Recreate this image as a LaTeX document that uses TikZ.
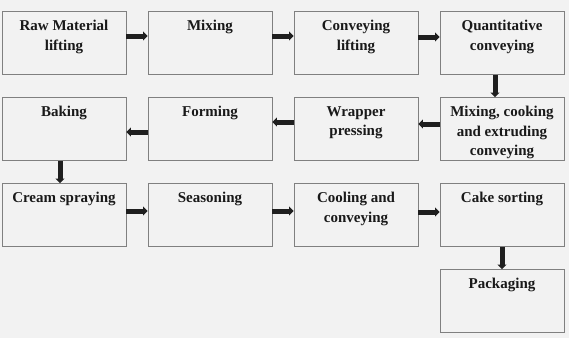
\documentclass[tikz,border=0pt]{standalone}
\usepackage{fontspec}
\setmainfont{Liberation Serif}
\usetikzlibrary{arrows.meta}
\definecolor{pagebg}{HTML}{F2F2F2}
\definecolor{boxline}{HTML}{808080}
\begin{document}
\begin{tikzpicture}[>=Stealth,x=1pt,y=1pt]
\tikzstyle{stage}=[draw=boxline,line width=0.8pt,fill=pagebg,minimum width=124pt,minimum height=63pt,inner sep=0pt]
\tikzstyle{caption}=[anchor=north,align=center,inner sep=0pt,text=black!90,font=\fontsize{15}{19.5}\selectfont\bfseries]
\tikzstyle{flow}=[line width=5pt,draw=black!88,-{Triangle[length=4.5pt,width=9pt]}]
\fill[pagebg] (0,0) rectangle (569,-338);
\useasboundingbox (0,0) rectangle (569,-338);
\foreach \c/\r/\nm [count=\i from 0] in {0/0/{Raw Material\\lifting}, 1/0/{Mixing}, 2/0/{Conveying\\lifting}, 3/0/{Quantitative\\conveying}, 3/1/{Mixing, cooking\\and extruding\\conveying}, 2/1/{Wrapper\\pressing}, 1/1/{Forming}, 0/1/{Baking}, 0/2/{Cream spraying}, 1/2/{Seasoning}, 2/2/{Cooling and\\conveying}, 3/2/{Cake sorting}, 3/3/{Packaging}} {
  \pgfmathsetmacro\xx{64+146*\c}
  \pgfmathsetmacro\yy{-43-86*\r}
  \node[stage] (n\i) at (\xx,\yy) {};
  \node[caption] (t\i) at ([yshift=-9pt]n\i.north) {\nm};
}
% from/to anchors and a small offset for each arrow
\foreach \i/\a/\b/\dx/\dy in {0/east/west/0/7, 1/east/west/0/7, 2/east/west/0/6, 3/south/north/-7/0, 4/west/east/0/5, 5/west/east/0/7, 6/west/east/0/-3, 7/south/north/-4/0, 8/east/west/0/4, 9/east/west/0/4, 10/east/west/0/3, 11/south/north/0/0} {
  \pgfmathtruncatemacro\j{\i+1}
  \draw[flow] ([shift={(\dx,\dy)}]n\i.\a) -- ([shift={(\dx,\dy)}]n\j.\b);
}
\end{tikzpicture}
\end{document}
